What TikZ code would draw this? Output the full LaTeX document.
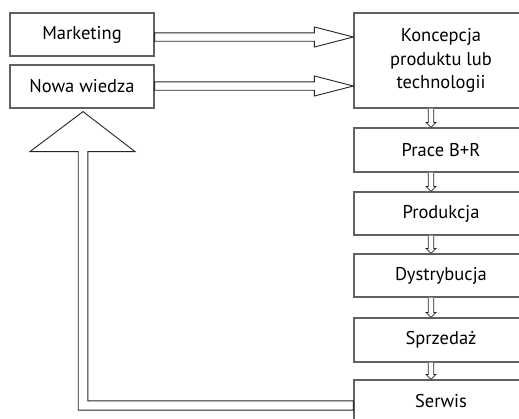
\documentclass[tikz,border=0pt]{standalone}
\usepackage{fontspec}
\setmainfont{PT Sans}
\usetikzlibrary{calc}

\tikzset{
  stagebox/.style={draw=black!62, line width=1.2pt, fill=white, inner sep=0pt,
    align=center, font=\fontsize{18.5}{23.5}\selectfont, text=black},
  blockarrow/.style={draw=black!85, line width=0.9pt, fill=white, line join=miter},
}

% horizontal block arrow: shaft from #1 to the tip at #2
\newcommand\hblockarrow[2]{%
  \draw[blockarrow] let \p1=(#1), \p2=(#2) in
    (\x1,\y1+4.2pt) -- (\x2-39pt,\y1+4.2pt) -- (\x2-39pt,\y1+10pt) -- (\x2,\y1)
    -- (\x2-39pt,\y1-10pt) -- (\x2-39pt,\y1-4.2pt) -- (\x1,\y1-4.2pt) -- cycle;}

% small downward block arrow from #1 to the tip at #2
\newcommand\vdownarrow[2]{%
  \draw[blockarrow, line width=0.8pt] let \p1=(#1), \p2=(#2) in
    (\x1-2.8pt,\y1) -- (\x1-2.8pt,\y2+5pt) -- (\x1-5pt,\y2+5pt) -- (\x2,\y2)
    -- (\x1+5pt,\y2+5pt) -- (\x1+2.8pt,\y2+5pt) -- (\x1+2.8pt,\y1);}

\begin{document}
\begin{tikzpicture}[x=1pt, y=-1pt]
  \clip (0,0) rectangle (519,418);
  \fill[white] (0,0) rectangle (519,418);

  % sources
  \node[stagebox, minimum width=144pt, minimum height=43pt] (mk) at (82,34.5) {Marketing};
  \node[stagebox, minimum width=144pt, minimum height=43pt] (nw) at (82,86.5) {Nowa wiedza};

  % chain of stages
  \node[stagebox, minimum width=174pt, minimum height=95pt] (kon) at (441,60.5)
    {Koncepcja\\produktu lub\\technologii};
  \node[stagebox, minimum width=174pt, minimum height=44pt] (pr) at (441,150) {Prace B+R};
  \node[stagebox, minimum width=174pt, minimum height=43pt] (prod) at (441,213.5) {Produkcja};
  \node[stagebox, minimum width=174pt, minimum height=43pt] (dys) at (441,275.5) {Dystrybucja};
  \node[stagebox, minimum width=174pt, minimum height=44pt] (sprz) at (441,340) {Sprzedaż};
  \node[stagebox, minimum width=174pt, minimum height=42pt] (serw) at (441,401) {Serwis};

  % inputs to the concept stage
  \coordinate (a1) at ($(mk.east)+(0,2.5)$);
  \coordinate (a2) at ($(nw.east)+(0,-0.5)$);
  \hblockarrow{a1}{kon.west |- a1}
  \hblockarrow{a2}{kon.west |- a2}

  % stage-to-stage arrows
  \coordinate (ax) at (431,0);
  \vdownarrow{kon.south -| ax}{pr.north -| ax}
  \vdownarrow{pr.south -| ax}{prod.north -| ax}
  \vdownarrow{prod.south -| ax}{dys.north -| ax}
  \vdownarrow{dys.south -| ax}{sprz.north -| ax}
  \vdownarrow{sprz.south -| ax}{serw.north -| ax}

  % feedback from service back to new knowledge
  \coordinate (fb) at (83,405.5);
  \coordinate (tip) at ($(nw.south -| fb)+(0,3)$);
  \draw[blockarrow] let \p1=(serw.west |- fb), \p2=(tip), \p3=(fb) in
    (\x1,\y1+4.6pt) -- (\x3+4.8pt,\y1+4.6pt) -- (\x3+4.8pt,\y2-40pt)
    -- (\x3+52pt,\y2-40pt) -- (\x2,\y2) -- (\x3-53pt,\y2-40pt)
    -- (\x3-4.8pt,\y2-40pt) -- (\x3-4.8pt,\y1-4.6pt) -- (\x1,\y1-4.6pt) -- cycle;
\end{tikzpicture}
\end{document}
